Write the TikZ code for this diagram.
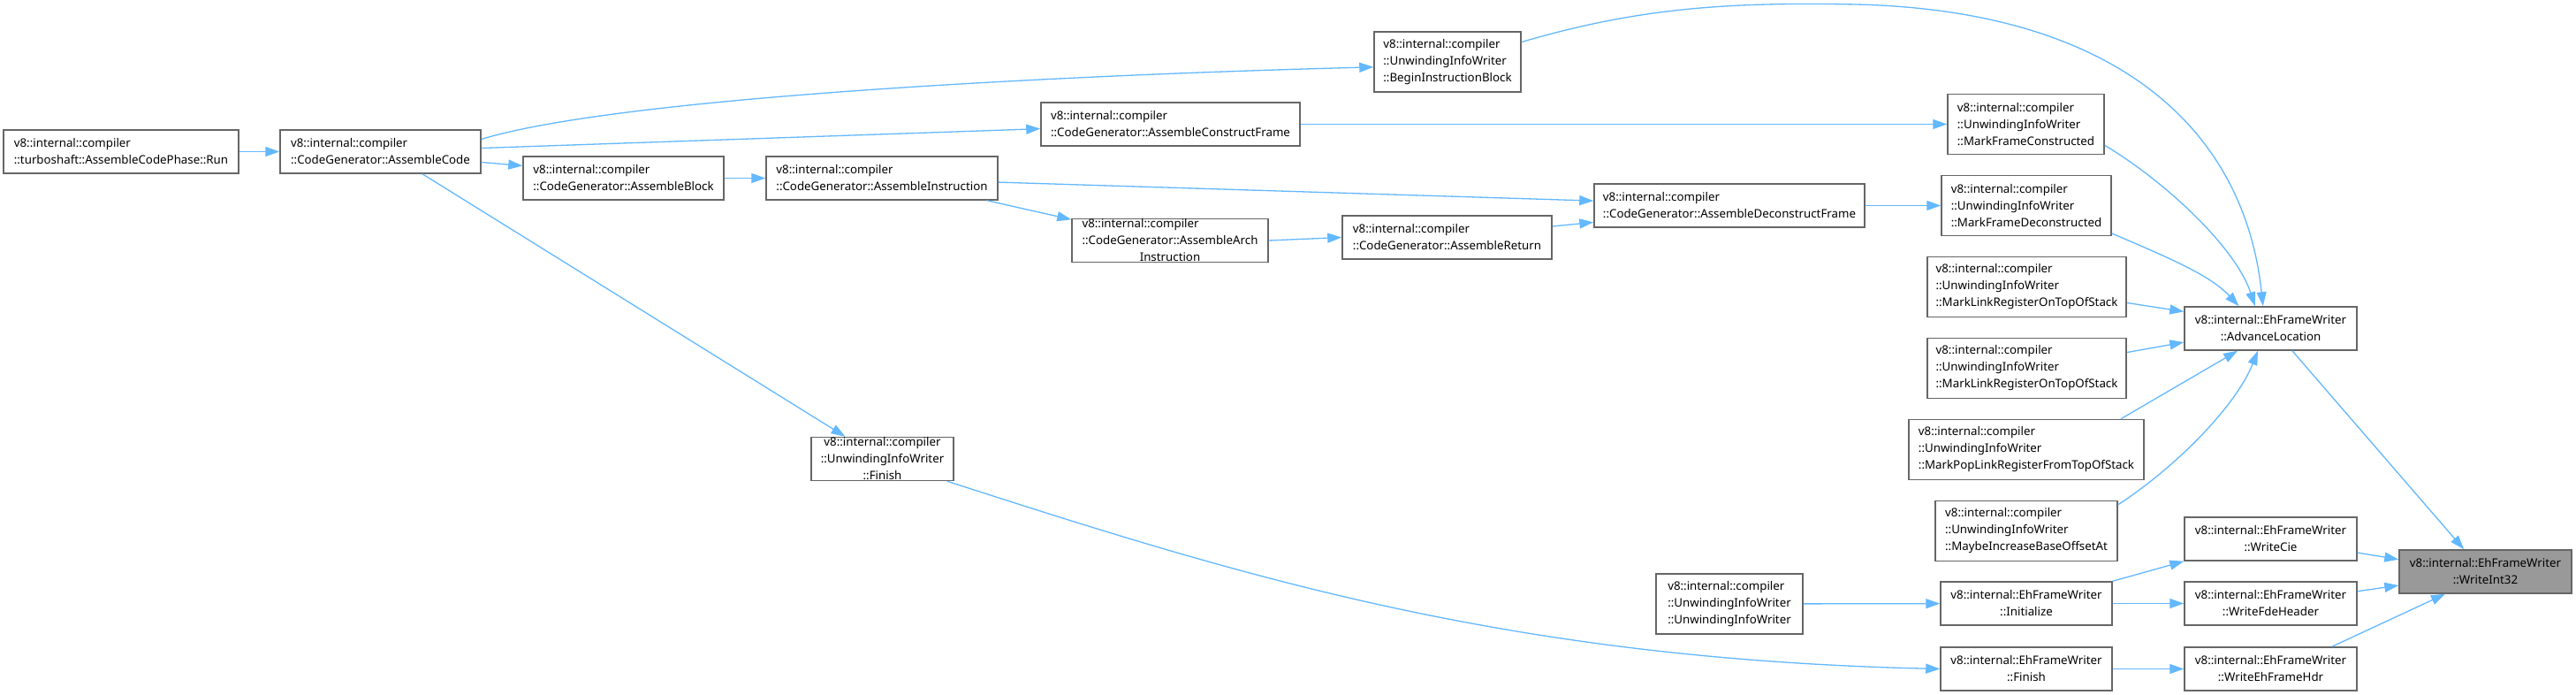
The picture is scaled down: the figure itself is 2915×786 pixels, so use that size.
\documentclass[tikz,border=0pt]{standalone}
\usepackage{fontspec}
\setmainfont{Noto Sans}
\usetikzlibrary{arrows.meta}
\definecolor{EdgeBlue}{HTML}{63B8FF}
\definecolor{BoxLine}{HTML}{666666}
\definecolor{RootFill}{HTML}{999999}
\tikzset{
  call/.style={-{Triangle[length=16pt,width=11pt]}, line width=1.3pt, draw=EdgeBlue},
  fn/.style={draw=BoxLine, fill=white, line width=1.5pt, align=left, inner xsep=6pt,
             inner ysep=0pt, minimum height=49pt, font=\fontsize{13.3pt}{19pt}\selectfont},
  fn3/.style={fn, minimum height=68pt},
  fnc/.style={fn, align=center},
  root/.style={fnc, fill=RootFill},
}
\begin{document}
\begin{tikzpicture}[x=1pt,y=-1pt]
  \fill[white] (0,0) rectangle (2915,786);
  \useasboundingbox (0,0) rectangle (2915,786);
  % callers, left to right
  \node[fn,minimum width=266pt] (run) at (137,171.5) {v8::internal::compiler\\::turboshaft::AssembleCodePhase::Run};
  \node[fn,minimum width=227pt] (acode) at (430.5,171.5) {v8::internal::compiler\\::CodeGenerator::AssembleCode};
  \node[fn,minimum width=227pt] (ablock) at (705.5,201.5) {v8::internal::compiler\\::CodeGenerator::AssembleBlock};
  \node[fn,minimum width=262pt] (ainstr) at (998,201.5) {v8::internal::compiler\\::CodeGenerator::AssembleInstruction};
  \node[fn3,fnc,minimum width=161pt] (uifin) at (998.5,519) {v8::internal::compiler\\::UnwindingInfoWriter\\::Finish};
  \node[fn,minimum width=293pt] (acframe) at (1324.5,140.5) {v8::internal::compiler\\::CodeGenerator::AssembleConstructFrame};
  \node[fn3,fnc,minimum width=222pt] (aarch) at (1324,272) {\rlap{v8::internal::compiler}\phantom{::CodeGenerator::AssembleArch}\\::CodeGenerator::AssembleArch\\Instruction};
  \node[fn3,minimum width=166pt] (begin) at (1638,70) {v8::internal::compiler\\::UnwindingInfoWriter\\::BeginInstructionBlock};
  \node[fn,minimum width=237pt] (aret) at (1637.5,268.5) {v8::internal::compiler\\::CodeGenerator::AssembleReturn};
  \node[fn,minimum width=306pt] (adframe) at (1957,232.5) {v8::internal::compiler\\::CodeGenerator::AssembleDeconstructFrame};
  \node[fn3,minimum width=166pt] (uiw) at (1957,683) {v8::internal::compiler\\::UnwindingInfoWriter\\::UnwindingInfoWriter};
  \node[fn3,minimum width=177pt] (mfc) at (2292.5,140.5) {v8::internal::compiler\\::UnwindingInfoWriter\\::MarkFrameConstructed};
  \node[fn3,minimum width=192pt] (mfd) at (2293,232.5) {v8::internal::compiler\\::UnwindingInfoWriter\\::MarkFrameDeconstructed};
  \node[fn3,minimum width=225pt] (mlr1) at (2293.5,324.5) {v8::internal::compiler\\::UnwindingInfoWriter\\::MarkLinkRegisterOnTopOfStack};
  \node[fn3,minimum width=225pt] (mlr2) at (2293.5,416.5) {v8::internal::compiler\\::UnwindingInfoWriter\\::MarkLinkRegisterOnTopOfStack};
  \node[fn3,minimum width=266pt] (mplr) at (2293,508.5) {v8::internal::compiler\\::UnwindingInfoWriter\\::MarkPopLinkRegisterFromTopOfStack};
  \node[fn3,minimum width=206pt] (mbo) at (2293,600.5) {v8::internal::compiler\\::UnwindingInfoWriter\\::MaybeIncreaseBaseOffsetAt};
  \node[fnc,minimum width=194pt] (init) at (2293,682.5) {v8::internal::EhFrameWriter\\::Initialize};
  \node[fnc,minimum width=194pt] (ehfin) at (2293,756.5) {v8::internal::EhFrameWriter\\::Finish};
  \node[fnc,minimum width=195pt] (advloc) at (2569.5,371.5) {v8::internal::EhFrameWriter\\::AdvanceLocation};
  \node[fnc,minimum width=195pt] (wcie) at (2569.5,609.5) {v8::internal::EhFrameWriter\\::WriteCie};
  \node[fnc,minimum width=195pt] (wfde) at (2569.5,682.5) {v8::internal::EhFrameWriter\\::WriteFdeHeader};
  \node[fnc,minimum width=195pt] (wehh) at (2569.5,756.5) {v8::internal::EhFrameWriter\\::WriteEhFrameHdr};
  \node[root,minimum width=195pt] (wint) at (2812.5,646.5) {v8::internal::EhFrameWriter\\::WriteInt32};
  % calls
  \draw[call] (run) -- (acode);
  \draw[call] (acode.7) .. controls (700,110) and (1200,85) .. (begin.184);
  \draw[call] (acode.2) -- (acframe.182);
  \draw[call] (acode.-6) -- (ablock.173);
  \draw[call] (acode.-28) -- (uifin.149);
  \draw[call] (ablock) -- (ainstr);
  \draw[call] (ainstr.-2) -- (adframe.178);
  \draw[call] (ainstr.-12) -- (aarch.168);
  \draw[call] (aarch.east) -- (aret.west);
  \draw[call] (aret.6) -- (adframe.187);
  \draw[call] (acframe) -- (mfc);
  \draw[call] (adframe) -- (mfd);
  \draw[call] (begin.15) .. controls (1850,10) and (1950,2) .. (2100,5)
                          .. controls (2400,12) and (2540,150) .. (advloc.109);
  \draw[call] (mfc.-15) .. controls (2450,205) and (2530,280) .. (advloc.125);
  \draw[call] (mfd.-18) .. controls (2450,290) and (2500,310) .. (advloc.145);
  \draw[call] (mlr1.-9) -- (advloc.169);
  \draw[call] (mlr2.9) -- (advloc.189);
  \draw[call] (mplr.18) -- (advloc.-146);
  \draw[call] (mbo.16) .. controls (2460,530) and (2530,460) .. (advloc.-120);
  \draw[call] (advloc.-46) -- (wint.134);
  \draw[call] (wcie.-9) -- (wint.172);
  \draw[call] (wfde.8) -- (wint.189);
  \draw[call] (wehh.20) -- (wint.-151);
  \draw[call] (init.north east) -- (wcie.south west);
  \draw[call] (init) -- (wfde);
  \draw[call] (ehfin) -- (wehh);
  \draw[call] (uiw) -- (init);
  \draw[call] (uifin.-19) .. controls (1400,650) and (1700,745) .. (ehfin.west);
\end{tikzpicture}
\end{document}
